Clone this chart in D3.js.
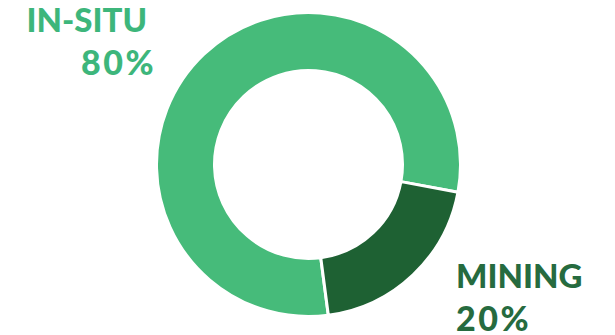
<!DOCTYPE html>
<html>
<head>
<meta charset="utf-8">
<script src="https://cdn.jsdelivr.net/npm/d3@7"></script>
<style>
  body { margin: 0; background: #ffffff; }
</style>
</head>
<body>
<div id="donut"></div>
<script>
const categories = ["IN-SITU", "MINING"];
const shares = [80, 20];
const colors = ["#46BB7A", "#1E6133"];
const labelColors = ["#3DB67B", "#266B3F"];

const width = 615, height = 335;
const cx = 308.5, cy = 164.5,
    outerRadius = 152, innerRadius = 94;

const svg = d3.select("#donut")
  .append("svg")
    .attr("width", width)
    .attr("height", height);

const data = categories.map((c, i) => ({category: c, value: shares[i]}));

const start = 172.5 * Math.PI / 180;
const pie = d3.pie()
  .sort(null)
  .value(d => d.value)
  .startAngle(start)
  .endAngle(start + 2 * Math.PI);

const arc = d3.arc()
  .innerRadius(innerRadius)
  .outerRadius(outerRadius);

svg.append("g")
    .attr("transform", "translate(" + cx + "," + cy + ")")
  .selectAll("path")
  .data(pie(data))
  .join("path")
    .attr("d", arc)
    .attr("fill", (d, i) => colors[i])
    .attr("stroke", "#ffffff")
    .attr("stroke-width", 3);

// labels: name on top, share below
const labels = [
  {x: 147, px: 156, y: 32, anchor: "end", i: 0},
  {x: 456, px: 456, y: 288, anchor: "start", i: 1}
];

labels.forEach(l => {
  const t = svg.append("text")
    .attr("y", l.y)
    .attr("text-anchor", l.anchor)
    .style("font-family", "Lato, sans-serif")
    .style("font-weight", "900")
    .style("font-size", "33px")
    .style("fill", labelColors[l.i]);
  t.append("tspan")
    .attr("x", l.x)
    .text(categories[l.i]);
  t.append("tspan")
    .attr("x", l.px)
    .attr("dy", 43)
    .style("font-size", "34px")
    .style("letter-spacing", "2.5px")
    .text(shares[l.i] + "%");
});
</script>
</body>
</html>
